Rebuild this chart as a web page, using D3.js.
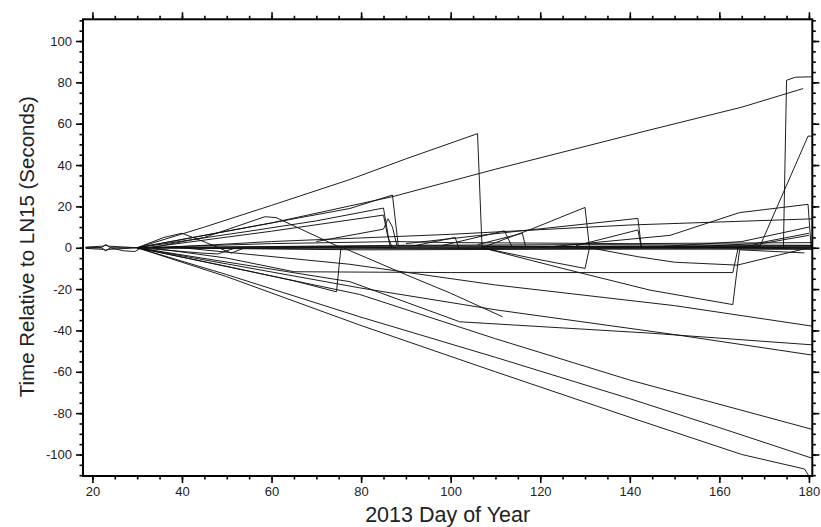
<!DOCTYPE html>
<html><head><meta charset="utf-8">
<script src="https://cdn.jsdelivr.net/npm/d3@7"></script>
<style>body{margin:0;background:#fff}svg{display:block}text{font-family:"Liberation Sans",Arial,sans-serif}</style>
</head><body><svg id="c" width="821" height="527"></svg>
<script>
// ---- data: [day, seconds] ----
const xMajorTicks = [20,40,60,80,100,120,140,160,180];
const yMajorTicks = [-100,-80,-60,-40,-20,0,20,40,60,80,100];
const xTitle = "2013 Day of Year";
const yTitle = "Time Relative to LN15 (Seconds)";

const z1 = [[18.5,0],[22,0],[23,1.6],[24,0],[30,0],[60,0.5],[100,0.8],[140,0.5],[181,0.8]];
const z2 = [[18.5,0],[22,0],[23,-1.5],[24,0],[27,-1.5],[29.5,-1.8],[31,0],[70,-0.5],[120,-0.3],[181,-0.8]];
const z3 = [[18.5,0.3],[22.5,0.8],[23,1.2],[23.5,0.8],[30,0],[90,1.2],[130,1.5],[181,1.2]];
const z4 = [[18.5,-0.3],[22.5,-0.8],[23,-1.2],[23.5,-0.8],[30,0],[80,-1],[150,-0.6],[181,-0.3]];
const z5 = [[30,0],[60,2],[88,3],[100,2.5],[140,2],[181,2.5]];
const z6 = [[30,0],[44,-2.5],[48,-3],[52,0],[90,0.3],[181,0]];
const sA = [[30,0],[45,10],[60,20.5],[77.5,33],[90,43],[106,55.2],[107,0.5],[140,0.8],[181,1]];
const sB = [[30,0],[60,12],[87,24.7],[110,38],[130,49],[144.5,57],[165,68],[178.7,77]];
const sC = [[30,0],[50,8],[65,14],[77.5,19],[87,25.5],[88.3,1],[181,0]];
const sD = [[30,0],[55,8],[70,13],[85,19.2],[86.5,0]];
const sE = [[32,0],[60,8],[85,15.8],[86,5],[87,0]];
const sF = [[70,3],[85,9],[86,14],[87,10],[88,1]];
const sG = [[33,0],[45,5],[58.5,15],[61,14.6],[75,0.5],[88,0]];
const sH1 = [[30,0],[36,5],[40,7],[46,2],[51,-2.6],[54,0]];
const sH = [[107,0],[118,9],[130,19.5],[131,0],[150,0],[181,0.5]];
const sH2 = [[107,0],[118,-5],[130,-10],[131,0]];
const sI = [[98,1],[112,8.2],[113.8,0]];
const sJ = [[106,1.5],[116,7],[116.8,0]];
const sK = [[92,1],[101,5],[101.8,0]];
const sL = [[128,1],[141.8,8.6],[142.6,0]];
const sN3 = [[90,2],[115,8],[141.8,14.2],[142.6,0]];
const sN2 = [[35,0],[60,3],[100,6.5],[140,11],[181,14]];
const sN1 = [[120,0],[149,6],[164.5,17],[179.8,21],[180.5,0]];
const sJump = [[30,0],[174.3,0],[175,81],[177,82.5],[181,82.7]];
const sRise = [[150,0],[169,0.5],[179.8,54],[181,54]];
const sR10 = [[142.6,0],[165,3],[180,10]];
const sR7 = [[150,0],[168,2],[180,7]];
const sL1 = [[30,0],[50,-9],[65,-16],[74.5,-21.3],[75.5,0]];
const sF12 = [[33,0],[50,-5],[65,-11.6],[100,-12],[163,-12],[164.2,0],[180,6]];
const sL27 = [[107,0],[125,-10],[144.5,-20.5],[163,-27.5],[164.5,-1],[179,-2.5]];
const sP = [[131,0],[142,-4.4],[150,-7],[164,-8.4],[180,0]];
const sShort = [[76,0],[90,-13],[100,-22],[111.6,-33.4]];
const sLow1 = [[30,0],[50,-14],[79.7,-37.4],[110,-60],[140,-82],[165,-100],[179,-107],[180,-110.4]];
const sLow2 = [[30,0],[50,-13],[79.7,-33.4],[110,-53],[140,-73],[160,-87],[181,-102]];
const sLow3 = [[30,0],[79.7,-22.6],[110,-44],[140,-64],[181,-88]];
const sLow4 = [[30,0],[79.7,-19.4],[110,-30],[150,-42],[181,-52]];
const sLow5 = [[30,0],[77.5,-16.4],[102,-35.8],[144.5,-41.3],[181,-47]];
const sLow6 = [[40,0],[77.5,-8],[110,-18],[150,-28],[181,-38]];

const seriesList = [z1,z2,z3,z4,z5,z6,sA,sB,sC,sD,sE,sF,sG,sH1,sH,sH2,sI,sJ,sK,sL,sN3,sN2,sN1,sJump,sRise,sR10,sR7,
  sL1,sF12,sL27,sP,sShort,sLow1,sLow2,sLow3,sLow4,sLow5,sLow6];

// ---- layout ----
const L = 83, R = 812.3, T = 19.3, B = 476;
const svg = d3.select("#c");
const x = d3.scaleLinear().domain([17.9, 180.75]).range([L, R]);
const y = d3.scaleLinear().domain([-110.4, 110.5]).range([B, T]);

svg.append("clipPath").attr("id","clip").append("rect")
  .attr("x",L).attr("y",T).attr("width",R-L).attr("height",B-T);

const line = d3.line().x(d=>x(d[0])).y(d=>y(d[1]));
svg.append("g").attr("clip-path","url(#clip)").selectAll("path").data(seriesList).join("path")
  .attr("d", line).attr("fill","none").attr("stroke","#111").attr("stroke-width",0.95);

const xMinor = d3.range(20, 181, 5);
const yMinor = d3.range(-110, 111, 5);
function axisSet(gen, scale, major, minor, pos, labels){
  const g1 = svg.append("g").attr("transform", pos)
    .call(gen(scale).tickValues(minor).tickSize(3.5).tickFormat(""));
  const g2 = svg.append("g").attr("transform", pos)
    .call(gen(scale).tickValues(major).tickSize(7).tickPadding(4).tickFormat(labels ? (d=>String(d)) : ""));
  [g1,g2].forEach(g=>{ g.select(".domain").remove(); g.selectAll("line").attr("stroke","#000").attr("stroke-width",1.6);
    g.selectAll("text").attr("font-size",13).attr("fill","#222"); });
}
axisSet(d3.axisBottom, x, xMajorTicks, xMinor, `translate(0,${B})`, true);
axisSet(d3.axisTop, x, xMajorTicks, xMinor, `translate(0,${T})`, false);
axisSet(d3.axisLeft, y, yMajorTicks, yMinor, `translate(${L},0)`, true);
axisSet(d3.axisRight, y, yMajorTicks, yMinor, `translate(${R},0)`, false);

svg.append("rect").attr("x",L).attr("y",T).attr("width",R-L).attr("height",B-T)
  .attr("fill","none").attr("stroke","#000").attr("stroke-width",2);

svg.append("text").attr("x",(L+R)/2).attr("y",522).attr("text-anchor","middle")
  .attr("font-size",21.5).attr("fill","#222").text(xTitle);
svg.append("text").attr("transform",`translate(34,${(T+B)/2 - 1}) rotate(-90)`).attr("text-anchor","middle")
  .attr("font-size",20.5).attr("fill","#222").text(yTitle);
</script></body></html>
